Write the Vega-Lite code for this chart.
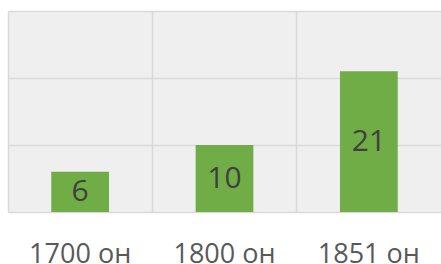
{
  "$schema": "https://vega.github.io/schema/vega-lite/v6.json",
  "width": 433,
  "height": 201,
  "autosize": "none",
  "padding": {"left": 8, "top": 11, "right": 0, "bottom": 52},
  "background": "white",
  "config": {"view": {"fill": "#efefef", "stroke": null}},
  "data": {"values": [
    {"period": "1700 он", "value": 6},
    {"period": "1800 он", "value": 10},
    {"period": "1851 он", "value": 21}
  ]},
  "encoding": {
    "x": {"field": "period", "type": "nominal", "sort": null,
      "scale": {"paddingInner": 0, "paddingOuter": 0},
      "axis": {"title": null, "grid": true, "bandPosition": 0, "gridColor": "#d9d9d9", "gridWidth": 1.5,
        "domain": false, "ticks": false, "labelAngle": 0, "labelFont": "Open Sans", "labelFontSize": 27,
        "labelColor": "#595959", "labelPadding": 29}}
  },
  "layer": [
    {"mark": {"type": "bar", "color": "#70ad47", "width": {"band": 0.4}},
      "encoding": {
        "y": {"field": "value", "type": "quantitative",
          "scale": {"domain": [0, 30], "nice": false},
          "axis": {"title": null, "values": [0, 10, 20, 30], "labels": false, "ticks": false, "domain": false,
            "gridColor": "#d9d9d9", "gridWidth": 1.5}}
      }},
    {"mark": {"type": "text", "font": "Open Sans", "fontSize": 30, "color": "#404040", "baseline": "middle"},
      "encoding": {
        "y": {"field": "value", "type": "quantitative", "scale": {"domain": [0, 60], "nice": false}, "axis": null},
        "text": {"field": "value", "type": "quantitative"}
      }}
  ],
  "resolve": {"scale": {"y": "independent"}}
}
